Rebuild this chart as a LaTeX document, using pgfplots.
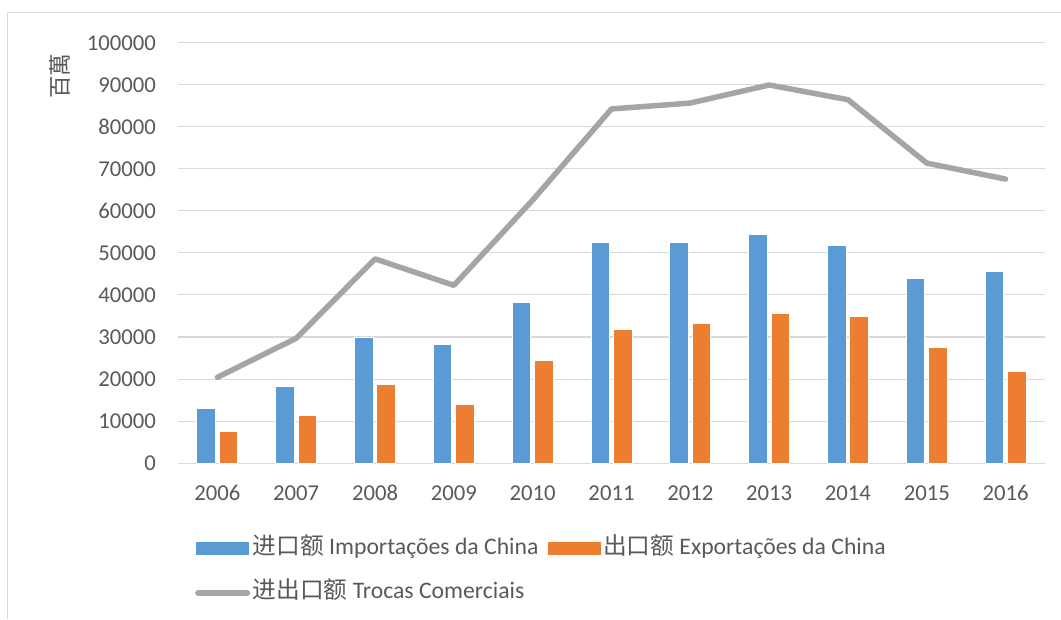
\documentclass[border=0pt]{standalone}
\usepackage{pgfplots}
\pgfplotsset{compat=1.18}
\usepackage{fontspec}
\setmainfont{Carlito}
\newfontfamily\cjk{Noto Sans CJK SC}
\definecolor{cblue}{HTML}{5B9BD5}
\definecolor{corange}{HTML}{ED7D31}
\definecolor{cgray}{HTML}{A5A5A5}
\definecolor{ctext}{HTML}{595959}
\definecolor{cgrid}{HTML}{D9D9D9}
\newcommand{\chartfont}{\fontsize{22.7pt}{27pt}\selectfont}
\newcommand{\legfont}{\fontsize{23.7pt}{28pt}\selectfont}
\begin{document}
\begin{tikzpicture}
\useasboundingbox (0pt,0pt) rectangle (1061pt,619pt);
\draw[cgrid, line width=1pt] (7.5pt,0pt) -- (7.5pt,606.5pt) -- (1061pt,606.5pt);
\begin{axis}[
  at={(178pt,156pt)}, anchor=south west,
  scale only axis, width=867pt, height=420pt,
  xmin=-0.5, xmax=10.5, ymin=0, ymax=100000,
  scaled y ticks=false,
  xtick={0,...,10},
  xticklabels={2006,2007,2008,2009,2010,2011,2012,2013,2014,2015,2016},
  ytick={0,10000,20000,30000,40000,50000,60000,70000,80000,90000,100000},
  yticklabels={0,10000,20000,30000,40000,50000,60000,70000,80000,90000,100000},
  major tick length=0pt,
  axis x line*=bottom, axis y line*=left,
  x axis line style={cgrid, line width=1pt, -},
  y axis line style={draw=none},
  ymajorgrids, grid style={cgrid, line width=1pt},
  tick label style={font=\chartfont, text=ctext},
  xticklabel style={text height=15pt, text depth=0pt, yshift=-19pt},
  yticklabel style={xshift=-18.5pt},
  ylabel={\cjk 百萬},
  every axis y label/.style={at={(axis description cs:-0.1361,0.921)}, rotate=90, anchor=center, font=\chartfont, text=ctext},
  clip=false,
  legend columns=2,
  legend style={draw=none, fill=none, inner sep=0pt,
    at={(axis description cs:0.0196,-0.1755)}, anchor=north west,
    font=\legfont, text=ctext,
    nodes={inner xsep=0pt, inner ysep=0pt, text height=18pt, text depth=6pt},
    cells={anchor=west}, row sep=20pt,
    /tikz/every odd column/.append style={column sep=2.5pt},
    /tikz/every even column/.append style={column sep=9pt}},
]
\addplot[ybar, bar width=18.6pt, bar shift=-11.2pt, fill=cblue, draw=white, line width=1pt,
  legend image code/.code={\fill[cblue] (0pt,-6pt) rectangle (52pt,6pt);}]
  coordinates {(0,13000) (1,18300) (2,29800) (3,28300) (4,38100) (5,52400) (6,52400) (7,54300) (8,51700) (9,44000) (10,45700)};
\addlegendentry{{\cjk 进口额} Importações da China}
\addplot[ybar, bar width=18.6pt, bar shift=11.2pt, fill=corange, draw=white, line width=1pt,
  legend image code/.code={\fill[corange] (0pt,-6pt) rectangle (52pt,6pt);}]
  coordinates {(0,7400) (1,11400) (2,18800) (3,14000) (4,24500) (5,31900) (6,33300) (7,35700) (8,34800) (9,27400) (10,21900)};
\addlegendentry{{\cjk 出口额} Exportações da China}
\addplot[sharp plot, color=cgray, line width=5.5pt, line join=round, line cap=round,
  legend image code/.code={\draw[cgray, line width=5.5pt, line cap=round] (1pt,0pt) -- (50.5pt,0pt);}]
  coordinates {(0,20400) (1,29700) (2,48600) (3,42300) (4,62600) (5,84300) (6,85700) (7,90000) (8,86500) (9,71400) (10,67600)};
\addlegendentry{{\cjk 进出口额} Trocas Comerciais}
\end{axis}
\end{tikzpicture}
\end{document}
